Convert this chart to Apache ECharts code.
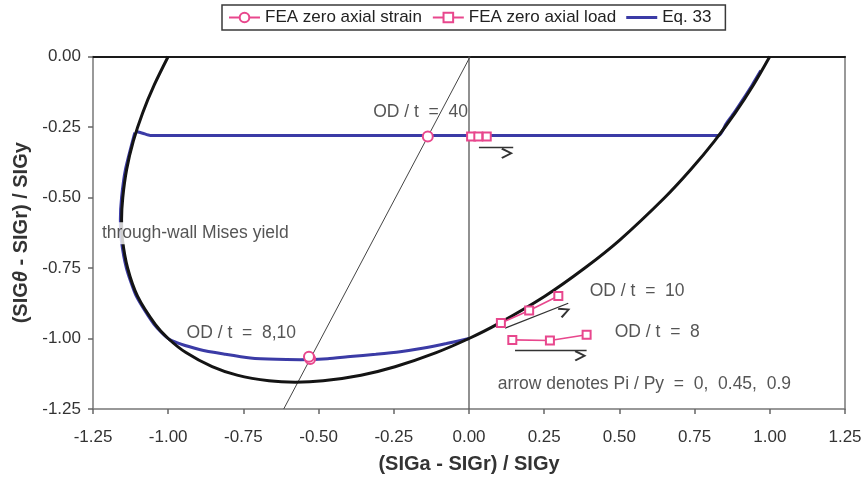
<!DOCTYPE html>
<html>
<head>
<meta charset="utf-8">
<title>Through-wall yield and Eq. 33</title>
<script src="https://cdn.jsdelivr.net/npm/echarts@6/dist/echarts.min.js"></script>
<style>
  html, body { margin: 0; padding: 0; background: #fff; }
  #chart { width: 866px; height: 479px; }
</style>
</head>
<body>
<div id="chart"></div>
<script>
// Through-wall Mises yield locus, (SIGa - SIGr)/SIGy vs (SIGθ - SIGr)/SIGy
const misesYield = [
  [-1.000, 0.000], [-1.046, -0.100], [-1.085, -0.200], [-1.116, -0.300], [-1.138, -0.400],
  [-1.151, -0.500], [-1.155, -0.577], [-1.152, -0.650], [-1.135, -0.750], [-1.102, -0.850],
  [-1.043, -0.950], [-1.000, -1.000], [-0.941, -1.050], [-0.854, -1.100], [-0.771, -1.130],
  [-0.665, -1.150], [-0.577, -1.155], [-0.485, -1.150], [-0.359, -1.130], [-0.246, -1.100],
  [-0.109, -1.050], [0.000, -1.000], [0.093, -0.950], [0.252, -0.850], [0.385, -0.750],
  [0.502, -0.650], [0.651, -0.500], [0.738, -0.400], [0.816, -0.300], [0.885, -0.200],
  [0.946, -0.100], [1.000, 0.000]
];

// Eq. 33 curves: OD/t = 8,10 (lower) and OD/t = 40 (flat)
const eq33OD8to10 = [
  [-1.111, -0.270], [-1.142, -0.400], [-1.155, -0.500], [-1.159, -0.577], [-1.156, -0.650],
  [-1.139, -0.750], [-1.106, -0.850], [-1.047, -0.950], [-0.995, -1.004], [-0.893, -1.040],
  [-0.810, -1.056], [-0.727, -1.069], [-0.640, -1.074], [-0.561, -1.075], [-0.470, -1.072],
  [-0.395, -1.064], [-0.310, -1.056], [-0.229, -1.047], [-0.150, -1.034], [-0.075, -1.018],
  [0.000, -1.000]
];
const eq33OD40 = [
  [-1.108, -0.266], [-1.085, -0.272], [-1.060, -0.280], [0.830, -0.280], [0.854, -0.240],
  [0.881, -0.200], [0.912, -0.150], [0.942, -0.100], [0.970, -0.050]
];

// FEA results
const feaStrain = [[-0.137, -0.284], [-0.300, '-'], [-0.528, -1.073], [-0.530, '-'], [-0.532, -1.065]];
const feaLoadOD40 = [[0.007, -0.284], [0.031, -0.284], [0.059, -0.284]];
const feaLoadOD10 = [[0.106, -0.945], [0.200, -0.901], [0.297, -0.849]];
const feaLoadOD8 = [[0.144, -1.005], [0.269, -1.007], [0.391, -0.987]];

// Reference lines
const zeroStrainLine = [[0.004, 0.000], [-0.616, -1.250]];
const verticalZero = [[0.000, 0.000], [0.000, -1.250]];

// Pressure arrows (start, end) for Pi/Py = 0 -> 0.9
const arrowOD40 = [[0.033, -0.322], [0.147, -0.322]];
const arrowOD10 = [[0.120, -0.963], [0.330, -0.875]];
const arrowOD8 = [[0.153, -1.040], [0.391, -1.040]];

// Text notes anchored in data space
const notes = [
  { text: 'OD / t  =  40', at: [-0.161, -0.196] },
  { text: 'OD / t  =  10', at: [0.559, -0.831] },
  { text: 'OD / t  =  8', at: [0.626, -0.979] },
  { text: 'OD / t  =  8,10', at: [-0.757, -0.981] },
  { text: 'through-wall Mises yield', at: [-0.910, -0.627], boxed: true },
  { text: 'arrow denotes Pi / Py  =  0,  0.45,  0.9', at: [0.583, -1.161] }
];

const PINK = '#e8478d';
const BLUE = '#3b3ba6';
const FONT = '"Liberation Sans", Arial, Helvetica, sans-serif';

const feaLoad = [].concat(feaLoadOD40, [[0.08, '-']], feaLoadOD10, [[0.12, '-']], feaLoadOD8);
const eq33 = [].concat(eq33OD8to10, [[-0.5, '-']], eq33OD40);

// open arrow head, tip at the top of its box
const chevron = 'path://M5,0 L10,8.6 L8.5,9.6 L5,3.2 L1.5,9.6 L0,8.6 Z';

const chart = echarts.init(document.getElementById('chart'), null, { renderer: 'canvas' });

chart.setOption({
  animation: false,
  textStyle: { fontFamily: FONT },
  grid: { left: 93, right: 21, top: 56.5, bottom: 70, containLabel: false },
  legend: {
    data: [
      { name: 'FEA zero axial strain' },
      { name: 'FEA zero axial load' },
      { name: 'Eq. 33', icon: 'path://M0,0 L31,0 L31,3 L0,3 Z' }
    ],
    left: 222, top: 5,
    padding: [4, 14, 4, 6],
    itemWidth: 31, itemHeight: 12, itemGap: 10,
    borderColor: '#3a3a3a', borderWidth: 1.5, backgroundColor: '#fff',
    textStyle: { fontSize: 17, color: '#222', fontFamily: FONT }
  },
  xAxis: [{
    type: 'value', min: -1.25, max: 1.25, interval: 0.25,
    name: '(SIGa - SIGr) / SIGy', nameLocation: 'middle', nameGap: 45,
    nameTextStyle: { fontSize: 20, fontWeight: 'bold', color: '#333', fontFamily: FONT },
    axisLine: { onZero: false, lineStyle: { color: '#777', width: 1.5 } },
    axisTick: { show: true, length: 5, lineStyle: { color: '#666', width: 1.5 } },
    axisLabel: { fontSize: 17, color: '#333', margin: 20, formatter: v => v.toFixed(2) },
    splitLine: { show: false }
  }, {
    type: 'value', position: 'top', min: -1.25, max: 1.25,
    axisLine: { onZero: false, lineStyle: { color: '#1a1a1a', width: 2 } },
    axisTick: { show: false }, axisLabel: { show: false }, splitLine: { show: false }
  }],
  yAxis: [{
    type: 'value', min: -1.25, max: 0, interval: 0.25,
    name: '(SIG{t|θ} - SIGr) / SIGy', nameLocation: 'middle', nameGap: 59,
    nameTextStyle: { fontSize: 20, fontWeight: 'bold', color: '#333', fontFamily: FONT,
      rich: { t: { fontSize: 20, fontWeight: 'bold', fontStyle: 'italic', color: '#333', fontFamily: FONT } } },
    axisLine: { onZero: false, lineStyle: { color: '#777', width: 1.5 } },
    axisTick: { show: true, length: 5, lineStyle: { color: '#666', width: 1.5 } },
    axisLabel: { fontSize: 17, color: '#333', margin: 12, formatter: v => v.toFixed(2) },
    splitLine: { show: false }
  }, {
    type: 'value', position: 'right', min: -1.25, max: 0,
    axisLine: { onZero: false, show: true, lineStyle: { color: '#777', width: 1.5 } },
    axisTick: { show: false }, axisLabel: { show: false }, splitLine: { show: false }
  }],
  series: [
    {
      name: 'vertical', type: 'line', data: verticalZero, symbol: 'none', silent: true,
      lineStyle: { color: '#555', width: 1.3 }, z: 1
    },
    {
      name: 'zero strain', type: 'line', data: zeroStrainLine, symbol: 'none', silent: true,
      lineStyle: { color: '#444', width: 1 }, z: 1
    },
    {
      name: 'Eq. 33', type: 'line', data: eq33, symbol: 'none', smooth: 0.2,
      connectNulls: false, color: BLUE, itemStyle: { color: BLUE },
      lineStyle: { color: BLUE, width: 3 }, z: 2
    },
    {
      name: 'yield', type: 'line', data: misesYield, symbol: 'none', smooth: 0.3, silent: true,
      lineStyle: { color: '#141414', width: 3 }, z: 3
    },
    {
      name: 'arrows', type: 'line', data: [], symbol: 'none', silent: true, z: 4,
      markLine: {
        silent: true, animation: false,
        symbol: ['none', chevron], symbolSize: [11, 12], symbolOffset: [0, 6],
        label: { show: false },
        lineStyle: { color: '#333', width: 1.3, type: 'solid' },
        emphasis: { disabled: true },
        data: [arrowOD40, arrowOD10, arrowOD8].map(a => [{ coord: a[0] }, { coord: a[1] }])
      }
    },
    {
      name: 'FEA zero axial load', type: 'line', data: feaLoad, connectNulls: false,
      symbol: 'emptyRect', symbolSize: 8, showAllSymbol: true, color: PINK,
      itemStyle: { color: PINK, borderWidth: 1.5 },
      lineStyle: { color: PINK, width: 1.6 }, z: 6
    },
    {
      name: 'FEA zero axial strain', type: 'line', data: feaStrain, connectNulls: false,
      symbol: 'emptyCircle', symbolSize: 10, showAllSymbol: true, color: PINK,
      itemStyle: { color: PINK, borderWidth: 1.6 },
      lineStyle: { color: PINK, width: 1.6 }, z: 6
    },
    {
      name: 'notes', type: 'scatter', symbolSize: 0, silent: true, z: 8,
      data: notes.map(n => ({
        value: n.at,
        label: {
          show: true, position: 'inside', formatter: n.text,
          fontSize: 17.5, color: '#2a2a2a', fontFamily: FONT,
          backgroundColor: n.boxed ? '#fff' : 'transparent',
          padding: n.boxed ? [2, 1] : 0
        }
      }))
    }
  ]
});
</script>
</body>
</html>
